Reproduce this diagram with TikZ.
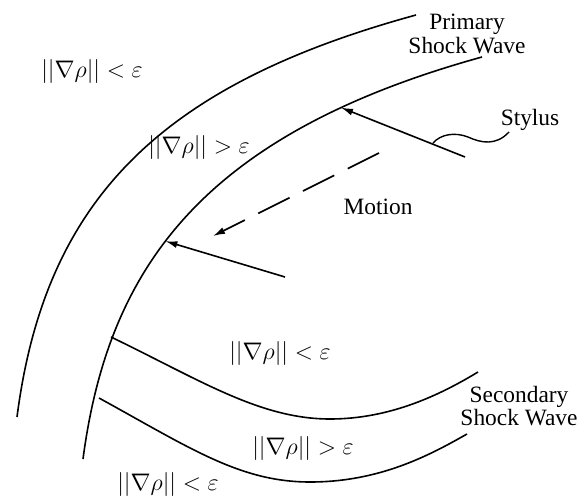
\documentclass[tikz,border=0pt]{standalone}
\usepackage{amsmath,amssymb}
\usepackage{fontspec}
\setmainfont{Liberation Serif}
\newfontfamily\lblfont{Liberation Serif}
\usetikzlibrary{arrows.meta}

\begin{document}
\begin{tikzpicture}[x=0.5pt,y=-0.5pt,line width=0.8pt,lbl/.style={font=\lblfont\fontsize{11.7}{10}\selectfont,align=center,inner sep=0pt},arr/.style={-{Latex[length=6pt,width=3.5pt]}},mot/.style={arr,dash pattern=on 17.5pt off 7.5pt}]
\useasboundingbox (0,0) rectangle (587,497);
\draw (17,417) .. controls (45,200) and (160,85) .. (416,15);
\draw (83,459) .. controls (108,270) and (200,135) .. coordinate[pos=0.44] (tipB) coordinate[pos=0.81] (tipA) (482,57);
\draw (111,337) .. controls (200,380) and (260,419) .. (330,419) .. controls (390,419) and (440,395) .. (478,372);
\draw (99,398) .. controls (190,448) and (240,482) .. (310,482) .. controls (380,482) and (430,455) .. (467,434);
\coordinate (styA) at (465,157); \coordinate (styB) at (285,277);
\coordinate (motS) at (379,153); \coordinate (motE) at (213,236);
\draw[arr] (styA)--(tipA);\draw[arr] (styB)--(tipB);
\draw[mot] (motS)--(motE);
\draw[line width=0.7pt] (433,143) .. controls (441,134) and (455,132) .. (468,137) .. controls (481,143) and (496,146) .. (509,132);
\node[lbl] (lt1) at (92,72) {$||\nabla\rho|| < \varepsilon$};
\node[lbl] (gt1) at (199,148) {$||\nabla\rho|| > \varepsilon$};
\node[lbl] (lt2) at (280,353) {$||\nabla\rho|| < \varepsilon$};
\node[lbl] (gt2) at (303,448) {$||\nabla\rho|| > \varepsilon$};
\node[lbl] (lt3) at (168,484) {$||\nabla\rho|| < \varepsilon$};
\node[lbl] (prim) at (467,34) {Primary\\Shock Wave};
\node[lbl] (sec) at (519,406) {Secondary\\Shock Wave};
\node[lbl] (sty) at (530,120) {Stylus};
\node[lbl] (motion) at (378,207) {Motion};
\end{tikzpicture}
\end{document}
